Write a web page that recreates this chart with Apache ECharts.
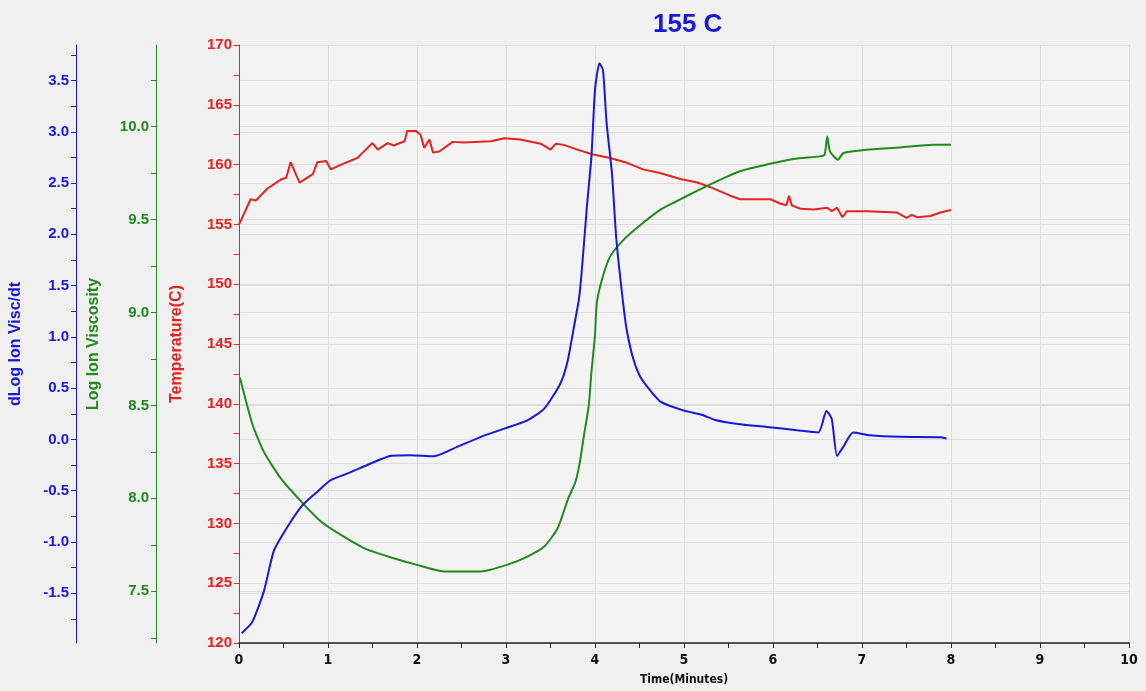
<!DOCTYPE html>
<html>
<head>
<meta charset="utf-8">
<script src="https://cdn.jsdelivr.net/npm/echarts@6/dist/echarts.min.js"></script>
<style>
html, body { margin: 0; padding: 0; background: #f0f0f0; }
#main { width: 1146px; height: 691px; }
</style>
</head>
<body>
<div id="main"></div>
<script>
// temperature (C) vs time (min)
var tempPoints = [
  [0, 155.0], [0.02, 155.3], [0.13, 157.1], [0.19, 157.0], [0.32, 158.0], [0.47, 158.75],
  [0.53, 158.9], [0.58, 160.2], [0.68, 158.5], [0.83, 159.2], [0.88, 160.2], [0.98, 160.3],
  [1.03, 159.6], [1.18, 160.1], [1.33, 160.55], [1.39, 161.0], [1.5, 161.8], [1.56, 161.25],
  [1.67, 161.8], [1.74, 161.6], [1.86, 161.95], [1.89, 162.8], [1.99, 162.8], [2.04, 162.5],
  [2.08, 161.4], [2.14, 162.1], [2.18, 161.0], [2.25, 161.1], [2.4, 161.9], [2.53, 161.85],
  [2.83, 161.95], [2.98, 162.2], [3.16, 162.1], [3.39, 161.75], [3.5, 161.25], [3.56, 161.75],
  [3.65, 161.65], [3.8, 161.25], [3.98, 160.85], [4.17, 160.55], [4.36, 160.15], [4.54, 159.6],
  [4.73, 159.3], [4.96, 158.8], [5.15, 158.5], [5.3, 158.1], [5.52, 157.4], [5.63, 157.1],
  [5.97, 157.1], [6.08, 156.75], [6.15, 156.6], [6.18, 157.4], [6.21, 156.6], [6.31, 156.3],
  [6.46, 156.25], [6.61, 156.4], [6.66, 156.1], [6.72, 156.4], [6.78, 155.6], [6.83, 156.1],
  [7.05, 156.1], [7.39, 156.0], [7.5, 155.55], [7.56, 155.8], [7.62, 155.6], [7.77, 155.7],
  [7.88, 156.0], [8.0, 156.2]
];

// log ion viscosity
var viscPoints = [
  [0.01, 8.65], [0.15, 8.40], [0.28, 8.25], [0.47, 8.107], [0.70, 7.982], [0.92, 7.875],
  [1.145, 7.803], [1.41, 7.731], [1.71, 7.682], [2.0, 7.642], [2.3, 7.607], [2.72, 7.607],
  [3.01, 7.642], [3.24, 7.687], [3.43, 7.741], [3.58, 7.839], [3.70, 8.0], [3.78, 8.088],
  [3.83, 8.195], [3.87, 8.32], [3.93, 8.50], [3.96, 8.678], [4.0, 8.88], [4.02, 9.05],
  [4.08, 9.18], [4.17, 9.30], [4.32, 9.39], [4.51, 9.47], [4.74, 9.554], [4.88, 9.589],
  [5.14, 9.652], [5.41, 9.714], [5.63, 9.759], [5.93, 9.795], [6.23, 9.825], [6.53, 9.839],
  [6.58, 9.848], [6.61, 9.946], [6.64, 9.866], [6.73, 9.821], [6.79, 9.857], [7.05, 9.875],
  [7.43, 9.887], [7.80, 9.902], [8.0, 9.902]
];

// dLog ion visc / dt
var dlogPoints = [
  [0.03, -1.89], [0.15, -1.78], [0.28, -1.48], [0.39, -1.09], [0.51, -0.90], [0.70, -0.655],
  [0.88, -0.51], [1.03, -0.397], [1.22, -0.332], [1.48, -0.235], [1.71, -0.16], [1.93, -0.154],
  [2.19, -0.164], [2.45, -0.073], [2.72, 0.025], [2.98, 0.105], [3.24, 0.186], [3.43, 0.30],
  [3.61, 0.543], [3.69, 0.754], [3.76, 1.08], [3.82, 1.37], [3.85, 1.63], [3.91, 2.28],
  [3.96, 2.76], [4.0, 3.41], [4.05, 3.67], [4.09, 3.60], [4.13, 3.09], [4.19, 2.60],
  [4.24, 1.95], [4.32, 1.30], [4.36, 1.05], [4.43, 0.786], [4.51, 0.608], [4.62, 0.478],
  [4.74, 0.365], [4.99, 0.283], [5.2, 0.24], [5.35, 0.19], [5.63, 0.147], [5.93, 0.122],
  [6.27, 0.089], [6.51, 0.067], [6.60, 0.277], [6.66, 0.20], [6.72, -0.16], [6.79, -0.073],
  [6.90, 0.067], [7.09, 0.04], [7.43, 0.025], [7.88, 0.021], [7.95, 0.008]
];

// tick positions / labels for the two outer axes
var viscTicks = [7.25, 7.5, 7.75, 8.0, 8.25, 8.5, 8.75, 9.0, 9.25, 9.5, 9.75, 10.0, 10.25];
var viscLabels = [7.5, 8.0, 8.5, 9.0, 9.5, 10.0];
var dlogTicks = [-1.75, -1.5, -1.25, -1.0, -0.75, -0.5, -0.25, 0, 0.25, 0.5, 0.75, 1.0, 1.25,
  1.5, 1.75, 2.0, 2.25, 2.5, 2.75, 3.0, 3.25, 3.5, 3.75];
var dlogLabels = [-1.5, -1.0, -0.5, 0, 0.5, 1.0, 1.5, 2.0, 2.5, 3.0, 3.5];

var RED = '#e52222', GREEN = '#22891f', BLUE = '#1818d8';
var GRID = '#dcdcdc';
var FONT = 'Liberation Sans';
var NARROW = 'DejaVu Sans Condensed';

var chart = echarts.init(document.getElementById('main'));

function sideAxis(color, offset, min, max, name, gap) {
  return {
    type: 'value',
    position: 'left',
    offset: offset,
    min: min,
    max: max,
    name: name,
    nameLocation: 'middle',
    nameRotate: 90,
    nameGap: gap,
    nameTextStyle: { color: color, fontFamily: FONT, fontWeight: 'bold', fontSize: 16 },
    axisLine: { show: true, lineStyle: { color: color, width: 1 } },
    axisTick: { show: true, length: 5, lineStyle: { color: color } },
    axisLabel: { color: color, fontFamily: FONT, fontWeight: 'bold', fontSize: 15, margin: 7 },
    splitLine: { show: false }
  };
}

// hidden axis only used to draw the horizontal grid lines of one scale
function gridAxis(min, max, values) {
  return {
    type: 'value',
    position: 'left',
    min: min,
    max: max,
    axisLine: { show: false },
    axisTick: { show: false, customValues: values },
    axisLabel: { show: false, customValues: values },
    splitLine: { show: true, lineStyle: { color: GRID, width: 1 } }
  };
}

var tempAxis = sideAxis(RED, 0, 120, 170, 'Temperature(C)', 54);
tempAxis.interval = 5;
tempAxis.minorTick = { show: true, splitNumber: 2, length: 5, lineStyle: { color: RED } };
tempAxis.splitLine = { show: true, lineStyle: { color: GRID, width: 1 } };

var viscAxis = sideAxis(GREEN, 83, 7.222, 10.438, 'Log Ion Viscosity', 54);
viscAxis.axisTick.customValues = viscTicks;
viscAxis.axisLabel.customValues = viscLabels;
viscAxis.axisLabel.formatter = function (v) { return v.toFixed(1); };

var dlogAxis = sideAxis(BLUE, 163, -1.986, 3.847, 'dLog Ion Visc/dt', 52);
dlogAxis.axisTick.customValues = dlogTicks;
dlogAxis.axisLabel.customValues = dlogLabels;
dlogAxis.axisLabel.formatter = function (v) { return v.toFixed(1); };

var option = {
  backgroundColor: '#f0f0f0',
  animation: false,
  title: {
    text: '155 C',
    left: 648,
    top: 7,
    textStyle: { color: BLUE, fontFamily: FONT, fontWeight: 'bold', fontSize: 26 }
  },
  grid: {
    left: 237, right: 17, top: 45, bottom: 46,
    show: true, backgroundColor: '#f3f3f3', borderWidth: 0
  },
  xAxis: {
    type: 'value',
    min: 0,
    max: 10,
    interval: 1,
    name: 'Time(Minutes)',
    nameLocation: 'middle',
    nameGap: 31,
    nameTextStyle: { color: '#111', fontFamily: NARROW, fontWeight: 'bold', fontSize: 12 },
    axisLine: { show: true, onZero: false, lineStyle: { color: '#222', width: 1.5 } },
    axisTick: { show: true, length: 5, lineStyle: { color: '#222' } },
    minorTick: { show: true, splitNumber: 2, length: 5, lineStyle: { color: '#222' } },
    axisLabel: { color: '#111', fontFamily: NARROW, fontWeight: 'bold', fontSize: 14, margin: 10 },
    splitLine: { show: true, lineStyle: { color: GRID, width: 1 } }
  },
  yAxis: [
    tempAxis,
    viscAxis,
    dlogAxis,
    gridAxis(7.222, 10.438, viscLabels),
    gridAxis(-1.986, 3.847, dlogLabels)
  ],
  series: [
    {
      name: 'Temperature', type: 'line', yAxisIndex: 0, showSymbol: false,
      lineStyle: { color: RED, width: 2 }, itemStyle: { color: RED },
      data: tempPoints
    },
    {
      name: 'Log Ion Viscosity', type: 'line', yAxisIndex: 1, showSymbol: false, smooth: 0.2,
      lineStyle: { color: GREEN, width: 2 }, itemStyle: { color: GREEN },
      data: viscPoints
    },
    {
      name: 'dLog Ion Visc/dt', type: 'line', yAxisIndex: 2, showSymbol: false, smooth: 0.2,
      lineStyle: { color: BLUE, width: 2 }, itemStyle: { color: BLUE },
      data: dlogPoints
    }
  ]
};

chart.setOption(option);

window.onresize = function () {
  chart.resize();
};
</script>
</body>
</html>
